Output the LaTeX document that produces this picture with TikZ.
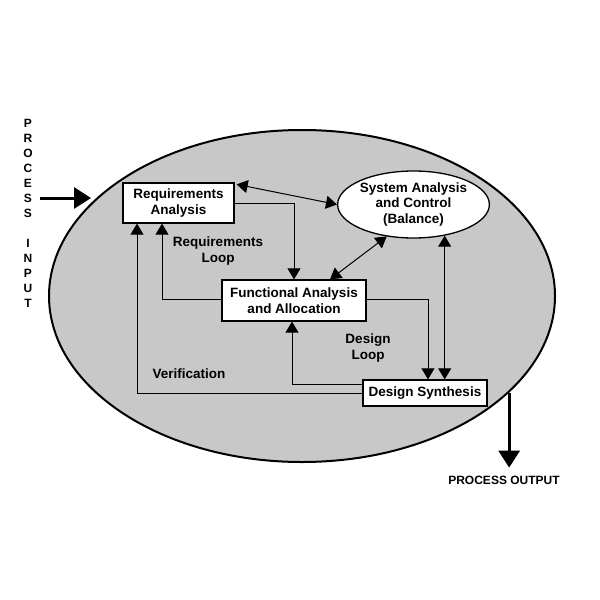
\documentclass[tikz,border=0pt]{standalone}
\usepackage{fontspec}
\setmainfont{Liberation Sans}
\usetikzlibrary{shapes.geometric,arrows.meta}
\definecolor{shade}{RGB}{200,200,200}

\begin{document}
\begin{tikzpicture}[x=1pt,y=-1pt,
	box/.style={rectangle,draw=black,line width=1.3pt,fill=white,inner sep=0pt,align=center,font=\fontsize{13.5}{15.5}\selectfont\bfseries},
	lbl/.style={align=center,font=\fontsize{13.5}{15.5}\selectfont\bfseries},
	tag/.style={align=center,font=\fontsize{12}{15}\selectfont\bfseries},
	arr/.style={line width=1pt,-{Triangle[length=11pt,width=13pt]}},
	dbl/.style={line width=1pt,{Triangle[length=11pt,width=13pt]}-{Triangle[length=11pt,width=13pt]}},
	big/.style={line width=3pt,-{Triangle[length=17pt,width=21pt]}}]
		\fill[white] (0,0) rectangle (600,600);
		\useasboundingbox (0,0) rectangle (600,600);
		% process
		\node[ellipse,draw=black,line width=2pt,fill=shade,inner sep=0pt,minimum width=506pt,minimum height=332pt] (main) at (302,296) {};
		\node[box,minimum width=111pt,minimum height=40pt] (req) at (178.5,203) {Requirements\\Analysis};
		\node[box,ellipse,minimum width=129pt,minimum height=67pt] (sys) at (413.5,204.5) {System Analysis\\and Control\\(Balance)};
		\node[box,minimum width=144pt,minimum height=41pt] (func) at (294,300.5) {Functional Analysis\\and Allocation};
		\node[box,minimum width=124pt,minimum height=26pt] (ds) at (425,393) {Design Synthesis};
		% labels
		\node[lbl] (rloop) at (218,251) {Requirements\\Loop};
		\node[lbl] (dloop) at (368,348) {Design\\Loop};
		\node[lbl] (verif) at (189,374) {Verification};
		\node[tag] (pin) at (28,213.5) {P\\R\\O\\C\\E\\S\\S\\[15pt]I\\N\\P\\U\\T};
		\node[tag] (pout) at (504,480) {PROCESS OUTPUT};
		\coordinate (inA) at (40,198);
		\coordinate (inB) at (91,198);
		% connectors
		\draw[arr] (req.east) -| (func.north);
		\draw[dbl] (sys.west) -- ([xshift=2pt,yshift=-2pt]req.north east);
		\draw[dbl] (sys.230) -- ([xshift=36pt]func.north);
		\draw[arr] ([yshift=1.5pt]func.east) -| ([xshift=3pt]ds.north);
		\draw[dbl] (sys.-45) -- (sys.-45 |- ds.north);
		\draw[arr] ([yshift=1.5pt]func.west) -| ([xshift=-16.5pt]req.south);
		\draw[arr] (ds.west) -| ([xshift=-41.5pt]req.south);
		\draw[arr] ([yshift=9pt]ds.west) -| ([xshift=-2pt]func.south);
		\draw[big] (inA) -- (inB);
		\draw[big] (main.-25.3) -- ++(0,75);
	\end{tikzpicture}
\end{document}
